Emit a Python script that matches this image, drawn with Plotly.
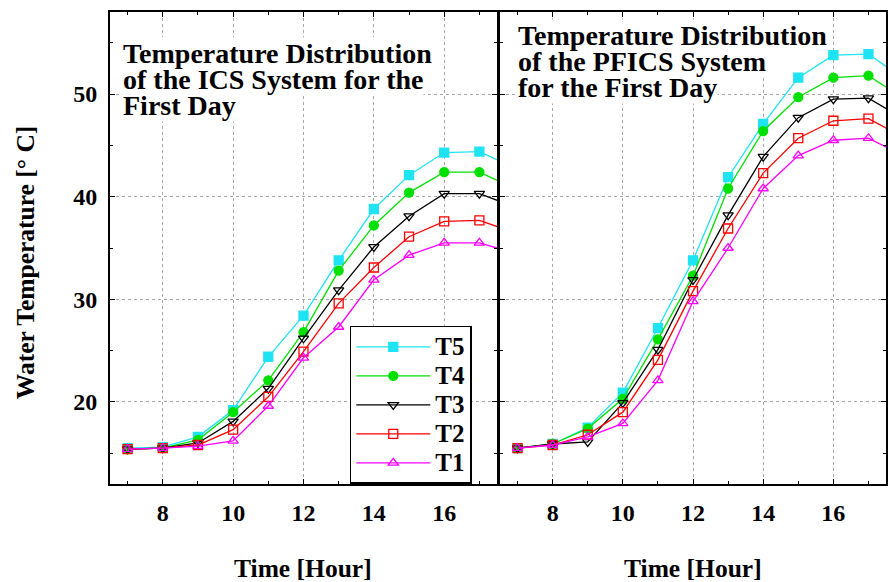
import plotly.graph_objects as go

hours = [7, 8, 9, 10, 11, 12, 13, 14, 15, 16, 17, 18]

# ICS system (left panel)
ics_T5 = [15.5, 15.6, 16.6, 19.2, 24.4, 28.4, 33.8, 38.8, 42.1, 44.3, 44.4, 42.8]
ics_T4 = [15.4, 15.5, 16.3, 19.0, 22.1, 26.8, 32.8, 37.2, 40.4, 42.4, 42.4, 40.8]
ics_T3 = [15.4, 15.5, 16.0, 18.1, 21.3, 26.2, 30.9, 35.1, 38.1, 40.3, 40.3, 39.0]
ics_T2 = [15.4, 15.5, 15.8, 17.3, 20.5, 24.9, 29.6, 33.1, 36.1, 37.6, 37.7, 36.5]
ics_T1 = [15.4, 15.5, 15.7, 16.2, 19.6, 24.3, 27.3, 31.9, 34.3, 35.5, 35.5, 34.5]

# PFICS system (right panel)
pf_T5 = [15.5, 15.9, 17.5, 20.9, 27.2, 33.8, 41.9, 47.1, 51.6, 53.8, 53.9, 51.5]
pf_T4 = [15.5, 15.9, 17.4, 20.3, 26.1, 32.3, 40.8, 46.4, 49.7, 51.6, 51.8, 49.6]
pf_T3 = [15.5, 15.9, 16.1, 19.9, 25.1, 31.9, 38.2, 43.9, 47.7, 49.5, 49.6, 47.6]
pf_T2 = [15.5, 15.8, 16.8, 19.0, 24.1, 30.8, 36.9, 42.3, 45.7, 47.4, 47.6, 45.8]
pf_T1 = [15.5, 15.8, 16.6, 17.9, 22.1, 29.8, 35.0, 40.8, 44.0, 45.5, 45.7, 44.0]

names = ["T5", "T4", "T3", "T2", "T1"]
colors = ["#1EE3F2", "#00E000", "#000000", "#FF0000", "#FF00FF"]
symbols = ["square", "circle", "triangle-down-open", "square-open", "triangle-up-open"]
ics = [ics_T5, ics_T4, ics_T3, ics_T2, ics_T1]
pfics = [pf_T5, pf_T4, pf_T3, pf_T2, pf_T1]

x_ticks = [8, 10, 12, 14, 16]
y_ticks = [20, 30, 40, 50]

left_title = ["Temperature Distribution", "of the ICS System for the", "First Day"]
right_title = ["Temperature Distribution", "of the PFICS System", "for the First Day"]

F = "Liberation Serif"

fig = go.Figure()
for i, n in enumerate(names):
    fig.add_trace(go.Scatter(x=hours, y=ics[i], mode="lines+markers",
                             name="<span style='font-size:25px'>%s</span>" % n,
                             xaxis="x", yaxis="y",
                             line=dict(color=colors[i], width=1.3),
                             marker=dict(symbol=symbols[i], size=9, color=colors[i],
                                         line=dict(color=colors[i], width=1.3)),
                             showlegend=True))
for i, n in enumerate(names):
    fig.add_trace(go.Scatter(x=hours, y=pfics[i], name=n, mode="lines+markers",
                             xaxis="x2", yaxis="y2",
                             line=dict(color=colors[i], width=1.3),
                             marker=dict(symbol=symbols[i], size=9, color=colors[i],
                                         line=dict(color=colors[i], width=1.3)),
                             showlegend=False))

tickfont = dict(family=F, size=24, color="black", weight="bold")
axis_common = dict(showline=True, linecolor="black", linewidth=2, mirror="allticks",
                   ticks="inside", ticklen=5, tickcolor="black",
                   showgrid=True, gridcolor="#a8a8a8", griddash="dot", gridwidth=1,
                   zeroline=False, automargin=False, tickfont=tickfont)

xa = dict(range=[6.5, 17.5], tickvals=x_ticks, ticklabelstandoff=6,
          minor=dict(dtick=1, tick0=7, ticks="inside", ticklen=3, tickcolor="black", showgrid=False),
          **axis_common)
ya = dict(range=[12, 58], tickvals=y_ticks, ticklabelstandoff=6,
          minor=dict(dtick=5, tick0=15, ticks="inside", ticklen=3, tickcolor="black", showgrid=False),
          **axis_common)

title_font = dict(family=F, size=28, color="black", weight="bold")
annos = []
# draw lower lines first so the white backing of upper lines sits on top
for line, yp in reversed(list(zip(left_title, [0.9131, 0.8570, 0.8019]))):
    annos.append(dict(text=line, xref="x domain", yref="y domain", x=0.031, y=yp,
                      xanchor="left", yanchor="middle", showarrow=False,
                      bgcolor="white", borderpad=0, font=title_font))
for line, yp in reversed(list(zip(right_title, [0.9492, 0.8941, 0.8390]))):
    annos.append(dict(text=line, xref="x2 domain", yref="y2 domain", x=0.044, y=yp,
                      xanchor="left", yanchor="middle", showarrow=False,
                      bgcolor="white", borderpad=0, font=title_font))

axis_title_font = dict(family=F, size=25.5, color="black", weight="bold")
annos.append(dict(text="Water Temperature [° C]", xref="paper", yref="paper",
                  x=-0.1095, y=0.468, xanchor="center", yanchor="middle", textangle=-90,
                  showarrow=False, font=axis_title_font))
annos.append(dict(text="Time [Hour]", xref="x domain", yref="paper", x=0.5, y=-0.18,
                  xanchor="center", yanchor="middle", showarrow=False, font=axis_title_font))
annos.append(dict(text="Time [Hour]", xref="x2 domain", yref="paper", x=0.5, y=-0.18,
                  xanchor="center", yanchor="middle", showarrow=False, font=axis_title_font))

fig.update_layout(
    width=888, height=582,
    margin=dict(l=110, r=2, t=12, b=98, autoexpand=False),
    paper_bgcolor="white", plot_bgcolor="white",
    font=dict(family=F, color="black"),
    xaxis=dict(domain=[0, 0.4987], anchor="y", **xa),
    xaxis2=dict(domain=[0.5026, 1.0], anchor="y2", **xa),
    yaxis=dict(domain=[0, 1], anchor="x", **ya),
    yaxis2=dict(domain=[0, 1], anchor="x2", matches="y", showticklabels=False, **ya),
    legend=dict(x=0.309, y=0.335, xanchor="left", yanchor="top",
                bgcolor="white", bordercolor="black", borderwidth=1.5,
                font=dict(family=F, size=20, color="black", weight="bold"),
                itemwidth=74, tracegroupgap=0),
    annotations=annos,
)

fig.write_html("out.html", config={"displayModeBar": False},
               post_script="document.body.style.margin='0';")
